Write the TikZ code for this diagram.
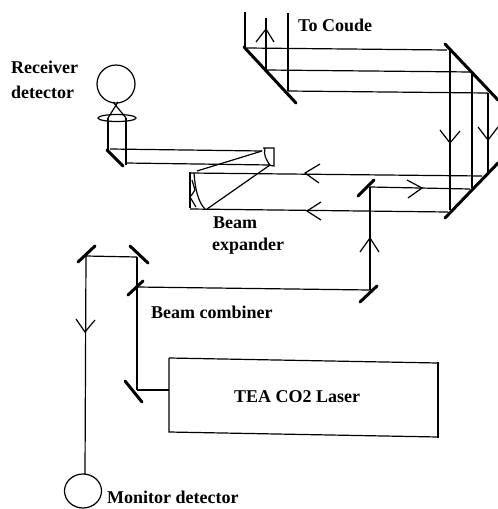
\documentclass[tikz,border=0pt]{standalone}
\usepackage{fontspec}
\setmainfont{Liberation Serif}
\tikzset{
  beam/.style={line width=1.2pt},
  mirror/.style={line width=3pt, line cap=round},
  label/.style={font=\fontsize{18}{18}\selectfont\bfseries, inner sep=0pt},
}
\begin{document}
\begin{tikzpicture}[x=1pt,y=-1pt]
    \useasboundingbox (0,0) rectangle (498,509);

    % Coude mirror and the three beams
    \draw[mirror] (244,47) -- (296,103);
    \draw[beam] (245,12) -- (245,47);
    \draw[beam] (266,18) -- (266,70);
    \draw[beam] (288,13) -- (288,91);
    \draw[beam] (256,42) -- (266,29) -- (274,42);
    \draw[beam] (247,48) -- (447,50);
    \draw[beam] (266,70) -- (472,72);
    \draw[beam] (288,91) -- (488,93);
    \node[label, anchor=west] (coude) at (298,25) {To Coude};

    % Right hand mirrors
    \draw[mirror] (445,44) -- (498,100);
    \draw[mirror] (445,218) -- (498,163);
    \draw[beam] (450,50) -- (450,210);
    \draw[beam] (472,72) -- (472,188);
    \draw[beam] (488,93) -- (488,173);
    \draw[beam] (440,130) -- (450,143) -- (460,131);
    \draw[beam] (478,127) -- (488,140) -- (498,127);

    % Beams into the expander
    \draw[beam] (190,173) -- (482,176);
    \draw[beam] (190,209) -- (448,212);
    \draw[beam] (320,164) -- (305,173) -- (319,183);
    \draw[beam] (321,202) -- (307,211) -- (321,220);

    % Small mirror and the beam from below
    \draw[mirror] (358,196) -- (374,180);
    \draw[beam] (370,187) -- (470,189);
    \draw[beam] (407,180) -- (422,188) -- (408,198);
    \draw[beam] (370,187) -- (370,290);
    \draw[beam] (360,252) -- (370,238) -- (379,252);
    \draw[mirror] (360,302) -- (377,286);

    % Beam expander
    \draw[line width=2pt] (190,172) -- (190,208);
    \draw[beam] (194,173) .. controls (195,188) and (198,202) .. (205,209);
    \draw[beam] (190,197) -- (196,207);
    \draw[beam] (192,180) -- (195,190) -- (191,196);
    \draw[beam] (197,171) -- (262,151);
    \draw[beam] (207,209) -- (270,165);
    \draw[beam] (263,148) -- (274,148) -- (274,166) -- (268,165);
    \draw[beam] (265,148) .. controls (263,155) and (267,161) .. (270,165);
    \node[label, anchor=west] (beamA) at (213,223) {Beam};
    \node[label, anchor=west] (beamB) at (212,246) {expander};

    % Receiver
    \draw[beam] (116,84) circle (19);
    \draw[beam] (108,118) -- (118,102);
    \draw[beam] (126,118) -- (113,102);
    \draw[beam] (117,118) ellipse (19 and 3.5);
    \draw[beam] (108,118) -- (108,150);
    \draw[beam] (126,118) -- (126,165);
    \draw[mirror] (107,150) -- (123,166);
    \draw[beam] (110,149) -- (262,151);
    \draw[beam] (126,163) -- (270,165);
    \node[label, anchor=west] (recvA) at (11,67) {Receiver};
    \node[label, anchor=west] (recvB) at (11,92) {detector};

    % Laser and beam combiner
    \draw[beam] (169,358) -- (438,363);
    \draw[beam] (169,358) -- (169,432) -- (438,437);
    \draw[line width=2pt] (438,362) -- (438,438);
    \node[label] (laser) at (297,397) {TEA CO2 Laser};
    \draw[mirror] (125,381) -- (142,402);
    \draw[beam] (137,390) -- (169,390);
    \draw[beam] (137,257) -- (137,390);
    \draw[mirror] (128,295) -- (143,281);
    \draw[beam] (137,287) -- (370,290);
    \node[label, anchor=west] (combiner) at (151,312) {Beam combiner};

    % Monitor arm
    \draw[mirror] (78,262) -- (95,246);
    \draw[mirror] (130,246) -- (148,263);
    \draw[beam] (86,256) -- (137,257);
    \draw[beam] (86,256) -- (85,474);
    \draw[beam] (76,319) -- (85,332) -- (95,320);
    \draw[beam] (83,491) ellipse (18.5 and 17);
    \node[label, anchor=west] (monitor) at (107,497) {Monitor detector};
\end{tikzpicture}
\end{document}
